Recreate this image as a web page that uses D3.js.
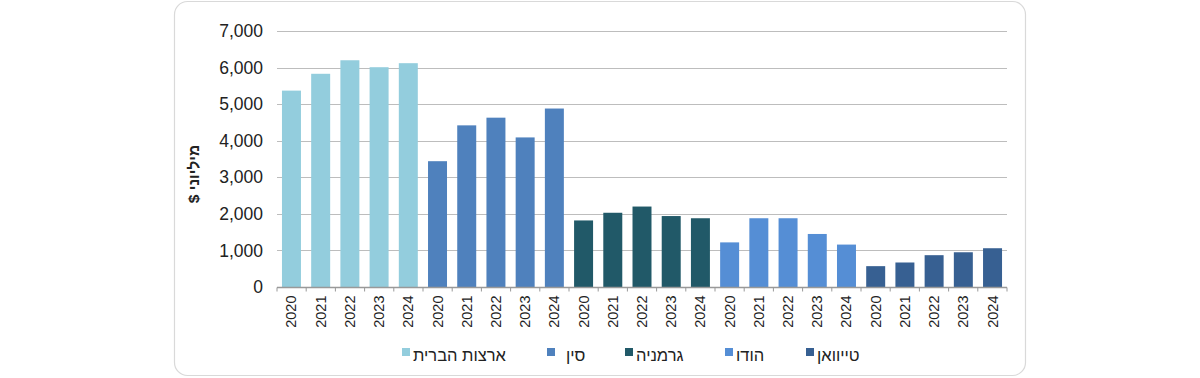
<!DOCTYPE html>
<html><head><meta charset="utf-8">
<script src="https://cdn.jsdelivr.net/npm/d3@7"></script>
<style>
html,body{margin:0;padding:0;background:#fff;}
svg{display:block;font-family:"Liberation Sans",Arial,sans-serif;}
</style></head>
<body><svg id="c" width="1200" height="378"></svg>
<script>
const countries = ["ארצות הברית","סין","גרמניה","הודו","טייוואן"];
const years = ["2020","2021","2022","2023","2024"];
const colors = ["#93cddd","#4f81bd","#215968","#558ed5","#376092"];
const usValues = [5370, 5830, 6200, 6010, 6120];
const chinaValues = [3440, 4420, 4630, 4090, 4880];
const germanyValues = [1820, 2030, 2200, 1940, 1880];
const indiaValues = [1220, 1880, 1880, 1450, 1160];
const taiwanValues = [570, 670, 870, 950, 1060];
const yTicks = [0,1000,2000,3000,4000,5000,6000,7000];
const yLabel = "מיליוני $";

const seriesValues = [usValues, chinaValues, germanyValues, indiaValues, taiwanValues];
const data = [];
seriesValues.forEach((vals, ci) => vals.forEach((v, yi) => data.push({c: ci, year: years[yi], v, key: ci + "-" + yi})));

const svg = d3.select("#c");
svg.append("rect").attr("x",174.5).attr("y",1.5).attr("width",851).attr("height",374).attr("rx",13)
  .attr("fill","#fff").attr("stroke","#d9d9d9").attr("stroke-width",1.2);

const x = d3.scaleBand().domain(data.map(d=>d.key)).range([277,1007]).paddingInner(0.35).paddingOuter(0.17);
const y = d3.scaleLinear().domain([0,7000]).range([287,31]);

// gridlines
svg.append("g").selectAll("line").data(yTicks.filter(t=>t>0)).join("line")
  .attr("x1",277).attr("x2",1007).attr("y1",d=>Math.round(y(d))+0.5).attr("y2",d=>Math.round(y(d))+0.5)
  .attr("stroke","#bdbdbd").attr("stroke-width",1.2);

// y axis labels
const yAxis = d3.axisLeft(y).tickValues(yTicks).tickFormat(d3.format(",")).tickSize(0).tickPadding(14);
const ya = svg.append("g").attr("transform","translate(277,0)").call(yAxis);
ya.select(".domain").remove();
ya.selectAll("text").attr("font-size",17.5).attr("fill","#222").attr("font-family","Liberation Sans, Arial, sans-serif");

// bars
svg.append("g").selectAll("rect").data(data).join("rect")
  .attr("x",d=>x(d.key)).attr("width",x.bandwidth())
  .attr("y",d=>y(d.v)).attr("height",d=>y(0)-y(d.v))
  .attr("fill",d=>colors[d.c]);

// x axis
const xa = svg.append("g").attr("transform","translate(0,"+(Math.round(y(0))+0.5)+")");
xa.append("line").attr("x1",277).attr("x2",1007).attr("stroke","#999").attr("stroke-width",1.3);
const bounds = d3.range(data.length+1).map(i => 277 + i*(730/data.length));
xa.selectAll("line.t").data(bounds).join("line").attr("class","t")
  .attr("x1",d=>d).attr("x2",d=>d).attr("y1",0).attr("y2",4).attr("stroke","#999").attr("stroke-width",1);
xa.selectAll("text").data(data).join("text")
  .attr("transform",d=>"translate("+(x(d.key)+x.bandwidth()/2+5)+",8) rotate(-90)")
  .attr("text-anchor","end").attr("font-size",14.5).attr("fill","#222")
  .text(d=>d.year);

// y label
svg.append("text").attr("transform","translate(199,174) rotate(-90)")
  .attr("text-anchor","middle").attr("font-size",15.5).attr("font-weight","bold").attr("fill","#222")
  .attr("direction","rtl").text(yLabel);

// legend
const legX = [402, 547, 625, 725, 806];
const legGap = [11, 19, 11, 11, 11];
const lg = svg.append("g").selectAll("g").data(countries).join("g")
  .attr("transform",(d,i)=>"translate("+legX[i]+",355)");
lg.append("rect").attr("x",0).attr("y",-7).attr("width",8).attr("height",8).attr("fill",(d,i)=>colors[i]);
lg.append("text").attr("x",(d,i)=>legGap[i]).attr("y",0).attr("dy","0.35em").attr("font-size",16.5).attr("fill","#222")
  .attr("direction","rtl").attr("text-anchor","end").text(d=>d);
</script></body></html>
